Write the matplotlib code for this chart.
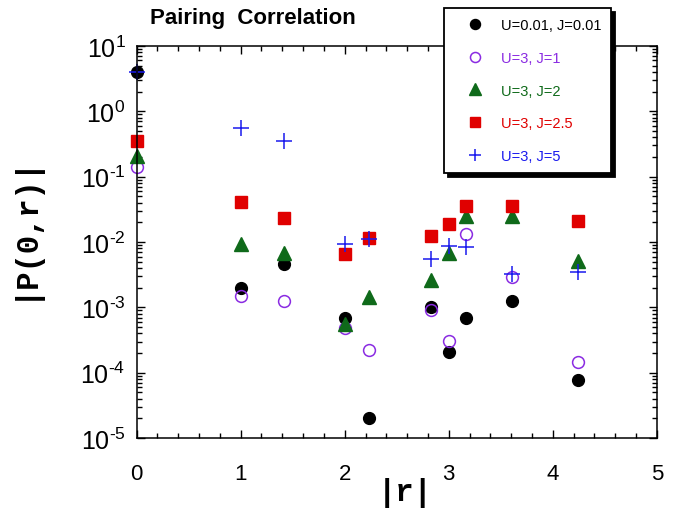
import numpy as np
import matplotlib
matplotlib.use("Agg")
import matplotlib.pyplot as plt
from matplotlib.ticker import LogLocator, NullFormatter, MultipleLocator
from matplotlib.patches import Shadow

plt.rcParams['font.family'] = ['Liberation Sans', 'DejaVu Sans']
plt.rcParams['mathtext.default'] = 'regular'
plt.rcParams['axes.unicode_minus'] = False

# distances |r|
r = [0, 1, np.sqrt(2), 2, np.sqrt(5), np.sqrt(8), 3, np.sqrt(10), np.sqrt(13), np.sqrt(18)]

labels = ["U=0.01, J=0.01", "U=3, J=1", "U=3, J=2", "U=3, J=2.5", "U=3, J=5"]
ytick_exponents = [-5, -4, -3, -2, -1, 0, 1]

p_u001_j001 = [4.0, 0.0020, 0.0046, 0.00070, 2.0e-5, 0.0010, 0.000205, 0.00068, 0.00126, 7.7e-5]
p_u3_j1     = [0.14, 0.0015, 0.00126, 0.00049, 0.000224, 0.00092, 0.00031, 0.0134, 0.0029, 0.000144]
p_u3_j2     = [0.21, 0.0092, 0.0068, 0.00055, 0.00145, 0.0026, 0.0068, 0.025, 0.025, 0.0052]
p_u3_j25    = [0.35, 0.041, 0.023, 0.0065, 0.0114, 0.0124, 0.0188, 0.036, 0.036, 0.0211]
p_u3_j5     = [4.0, 0.56, 0.355, 0.0093, 0.011, 0.0055, 0.0087, 0.0085, 0.0032, 0.0035]

series = [p_u001_j001, p_u3_j1, p_u3_j2, p_u3_j25, p_u3_j5]
colors = ['#000000', '#8a2be2', '#0f6a1a', '#e00000', '#1a1aee']
styles = [
    dict(marker='o', markersize=8.5, markerfacecolor='#000000', markeredgecolor='#000000'),
    dict(marker='o', markersize=8.5, markerfacecolor='none', markeredgecolor='#8a2be2', markeredgewidth=1.1),
    dict(marker='^', markersize=9.5, markerfacecolor='#0f6a1a', markeredgecolor='#0f6a1a'),
    dict(marker='s', markersize=8.5, markerfacecolor='#e00000', markeredgecolor='#e00000'),
    dict(marker='+', markersize=11, markeredgecolor='#1a1aee', markeredgewidth=1.1),
]

fig = plt.figure(figsize=(6.73, 5.10), dpi=100)
ax = fig.add_axes([0.203, 0.139, 0.773, 0.769])

handles = []
for vals, st, lab in zip(series, styles, labels):
    h, = ax.plot(r, vals, linestyle='none', clip_on=False, label=lab, **st)
    handles.append(h)

ax.set_yscale('log')
ax.set_xlim(0, 5)
ax.set_ylim(1e-5, 1e1)

ax.xaxis.set_major_locator(MultipleLocator(1))
ax.xaxis.set_minor_locator(MultipleLocator(0.2))
ax.yaxis.set_minor_locator(LogLocator(base=10, subs=np.arange(2, 10), numticks=20))
ax.yaxis.set_minor_formatter(NullFormatter())
ax.set_yticks([10.0 ** k for k in ytick_exponents])
ax.set_yticklabels([r'$10^{%s}$' % str(k).replace('-', '\u2010') for k in ytick_exponents])

ax.tick_params(which='both', direction='in', top=True, right=True, width=1)
ax.tick_params(which='major', length=6)
ax.tick_params(which='minor', length=3.5)
ax.tick_params(axis='x', which='major', labelsize=16, pad=18)
ax.tick_params(axis='y', which='major', labelsize=18, pad=8)
for s in ax.spines.values():
    s.set_linewidth(1.1)

fig.text(0.035, 0.555, '|P(0,r)|', rotation=90, ha='center', va='center',
         family=['Liberation Mono', 'DejaVu Sans Mono'], fontweight='bold', fontsize=22)
fig.text(0.6025, 0.033, '|r|', ha='center', va='center',
         family=['Liberation Mono', 'DejaVu Sans Mono'], fontweight='bold', fontsize=22)

fig.text(0.223, 0.963, 'Pairing  Correlation', ha='left', va='center',
         fontweight='bold', fontsize=16)

leg = fig.legend(handles=handles, loc='upper left', bbox_to_anchor=(0.6597, 0.982),
                 bbox_transform=fig.transFigure, fontsize=10.5, frameon=True,
                 fancybox=False, shadow=False, markerscale=0.85, framealpha=1,
                 labelspacing=1.285, handletextpad=0.34, borderpad=0.68,
                 borderaxespad=0, numpoints=1, handlelength=2.88)
leg.get_frame().set_edgecolor('black')
leg.get_frame().set_facecolor('white')
leg.get_frame().set_linewidth(1.3)
for t, c in zip(leg.get_texts(), colors):
    t.set_color(c)

fig.canvas.draw()
sh = Shadow(leg.legendPatch, 3, -3, color='black', alpha=1)
sh.set_zorder(leg.get_zorder() - 0.01)
fig.add_artist(sh)

fig.savefig('out.png', dpi=100)
